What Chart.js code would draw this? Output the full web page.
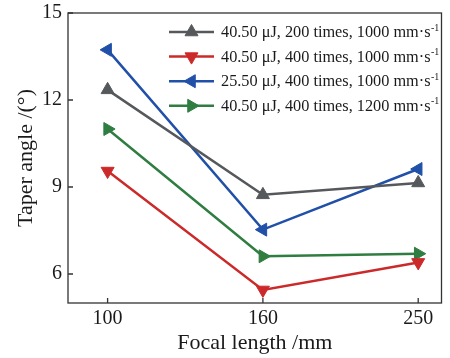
<!DOCTYPE html>
<html><head><meta charset="utf-8">
<script src="https://cdn.jsdelivr.net/npm/chart.js@4/dist/chart.umd.min.js"></script>
<style>html,body{margin:0;padding:0;background:#fff}#wrap{width:450px;height:358px}</style>
</head><body><div id="wrap"><canvas id="c"></canvas></div>
<script>
const categories = ['100', '160', '250'];
const yTicks = [6, 9, 12, 15];
const seriesNames = [
  '40.50 \u03bcJ, 200 times, 1000 mm\u00b7s',
  '40.50 \u03bcJ, 400 times, 1000 mm\u00b7s',
  '25.50 \u03bcJ, 400 times, 1000 mm\u00b7s',
  '40.50 \u03bcJ, 400 times, 1200 mm\u00b7s'
];
const gray200 = [12.35, 8.73, 9.14];
const red400 = [9.55, 5.45, 6.4];
const blue255 = [13.73, 7.53, 9.62];
const green1200 = [11.0, 6.61, 6.7];

const colors = ['#56595c', '#cc2a2a', '#2050a8', '#2f7d40'];
const rotations = [0, 180, 270, 90];
const seriesValues = [gray200, red400, blue255, green1200];
const FONT = "'Liberation Serif', serif";

const datasets = seriesValues.map((vals, i) => ({
  label: seriesNames[i],
  data: vals.map((v, j) => ({x: j, y: v})),
  borderColor: colors[i],
  backgroundColor: colors[i],
  pointBackgroundColor: colors[i],
  pointBorderColor: colors[i],
  pointStyle: 'triangle',
  rotation: rotations[i],
  pointRadius: 7.5,
  pointBorderWidth: 1,
  borderWidth: 2.5,
  tension: 0
}));

const framePlugin = {
  id: 'frame',
  afterDraw(chart) {
    const ctx = chart.ctx, a = chart.chartArea;
    const xs = chart.scales.x, ys = chart.scales.y;
    ctx.save();
    ctx.strokeStyle = '#333';
    ctx.lineWidth = 1.3;
    ctx.strokeRect(a.left, a.top, a.right - a.left, a.bottom - a.top);
    ctx.beginPath();
    categories.forEach((c, i) => {
      const px = xs.getPixelForValue(i);
      ctx.moveTo(px, a.bottom); ctx.lineTo(px, a.bottom - 5);
    });
    yTicks.forEach(v => {
      const py = ys.getPixelForValue(v);
      ctx.moveTo(a.left, py); ctx.lineTo(a.left + 5, py);
    });
    ctx.stroke();
    // legend
    const lx0 = 169, lx1 = 214, tx = 221, y0 = 32, dy = 24.6;
    chart.data.datasets.forEach((ds, i) => {
      const y = y0 + i * dy;
      ctx.strokeStyle = ds.borderColor;
      ctx.lineWidth = 2.5;
      ctx.beginPath(); ctx.moveTo(lx0, y); ctx.lineTo(lx1, y); ctx.stroke();
      ctx.fillStyle = ds.borderColor;
      ctx.strokeStyle = ds.borderColor;
      ctx.lineWidth = 1;
      Chart.helpers.drawPoint(ctx, {pointStyle: 'triangle', rotation: ds.rotation, radius: 7.5, borderWidth: 1}, (lx0 + lx1) / 2, y);
      ctx.fillStyle = '#1a1a1a';
      ctx.font = "16.3px " + FONT;
      ctx.textBaseline = 'middle';
      ctx.textAlign = 'left';
      ctx.fillText(ds.label, tx, y + 1);
      const w = ctx.measureText(ds.label).width;
      ctx.font = "10px " + FONT;
      ctx.fillText('-1', tx + w + 0.5, y - 4);
    });
    ctx.restore();
  }
};

new Chart(document.getElementById('c'), {
  type: 'line',
  data: {datasets},
  options: {
    responsive: true,
    maintainAspectRatio: false,
    animation: false,
    layout: {padding: {left: 0, right: 5, top: 13, bottom: 0}},
    plugins: {legend: {display: false}, tooltip: {enabled: false}},
    scales: {
      x: {
        type: 'linear', min: -0.255, max: 2.15,
        afterBuildTicks: s => { s.ticks = categories.map((c, i) => ({value: i})); },
        afterFit: s => { s.height = 55; s.paddingLeft = 0; s.paddingRight = 0; },
        grid: {display: false, drawTicks: false},
        border: {display: false},
        ticks: {
          callback: v => categories[v],
          color: '#1a1a1a', padding: 4,
          font: {family: FONT, size: 20},
          maxRotation: 0
        },
        title: {display: true, text: 'Focal length /mm', color: '#1a1a1a', font: {family: FONT, size: 22}, padding: {top: 0, bottom: 2}}
      },
      y: {
        min: 5, max: 15,
        afterBuildTicks: s => { s.ticks = yTicks.map(v => ({value: v})); },
        afterFit: s => { s.width = 68; s.paddingTop = 0; s.paddingBottom = 0; },
        grid: {display: false, drawTicks: false},
        border: {display: false},
        ticks: {color: '#1a1a1a', padding: 6, font: {family: FONT, size: 20}},
        title: {display: true, text: 'Taper angle /(\u00b0)', color: '#1a1a1a', font: {family: FONT, size: 22}, padding: {top: 13, bottom: 0}}
      }
    }
  },
  plugins: [framePlugin]
});
</script>
</body></html>
